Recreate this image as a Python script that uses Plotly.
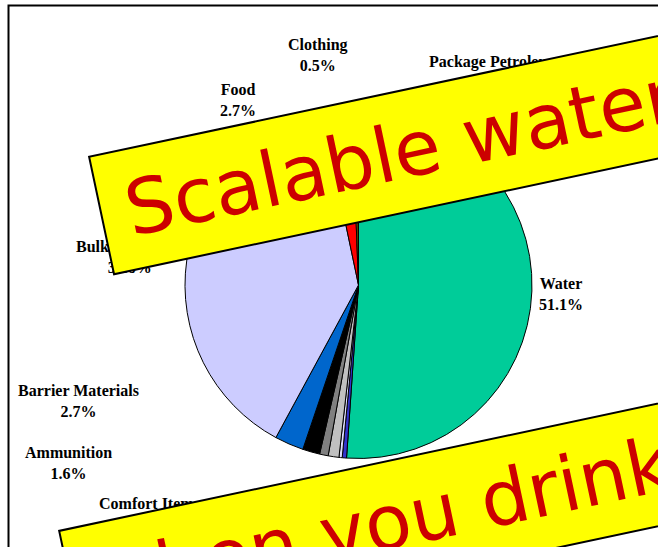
import plotly.graph_objects as go

W_PX, H_PX = 658, 547

categories = ["Water", "Repair Parts", "Medical", "Major End Items", "Comfort Items",
              "Ammunition", "Barrier Materials", "Bulk Petroleum", "Food", "Clothing",
              "Package Petroleum"]
values = [51.1, 0.4, 0.3, 1.0, 0.8, 1.6, 2.7, 38.8, 2.7, 0.5, 0.1]
colors = ["#00CC99", "#3333CC", "#DDDDFF", "#C0C0C0", "#808080", "#000000",
          "#0066CC", "#CCCCFF", "#FF0000", "#CC9900", "#993300"]

# label centre positions in window pixels (x, y from top)
label_pos = {
    "Water": (561, 294),
    "Repair Parts": (420, 512),
    "Medical": (330, 522),
    "Major End Items": (240, 535),
    "Comfort Items": (149, 514),
    "Ammunition": (68, 463),
    "Barrier Materials": (78, 401),
    "Bulk Petroleum": (130, 257),
    "Food": (238, 100),
    "Clothing": (318, 55),
    "Package Petroleum": (495, 72),
}

banner_texts = ["Scalable water", "when you drink"]


def px(x):
    return x / W_PX


def py(y):
    return 1 - y / H_PX


fig = go.Figure()
fig.add_trace(go.Pie(
    labels=categories, values=values, sort=False, direction="clockwise", rotation=0,
    marker=dict(colors=colors, line=dict(color="black", width=1)),
    textinfo="none", hoverinfo="label+percent", showlegend=False,
    domain=dict(x=[px(185), px(532)], y=[py(458.5), py(111.5)]),
))

total = sum(values)
for name, v in zip(categories, values):
    x, y = label_pos[name]
    fig.add_annotation(
        text=f"<b>{name}</b><br><b>{100 * v / total:.1f}%</b>",
        x=px(x), y=py(y), xref="paper", yref="paper", showarrow=False,
        xanchor="center", yanchor="middle", align="center",
        font=dict(family="Liberation Serif", size=16, color="#000000"),
    )

# frame
fig.add_shape(type="rect", xref="paper", yref="paper",
              x0=px(8.5), x1=1.05, y0=-0.05, y1=py(5.5),
              line=dict(color="black", width=2), fillcolor="rgba(0,0,0,0)")

# banners (rotated yellow boxes)
BW, BH = 700, 122
banner_centres = [(442.8, 143.2), (413, 516.9)]
for text, (cx, cy) in zip(banner_texts, banner_centres):
    fig.add_annotation(
        text="\u00a0" + text, x=px(cx), y=py(cy), xref="paper", yref="paper",
        showarrow=False, textangle=-12, xanchor="center", yanchor="middle",
        width=BW - 4, height=BH - 4, align="left", valign="middle",
        bgcolor="#FFFF00", bordercolor="black", borderwidth=2, borderpad=0,
        font=dict(family="DejaVu Sans", size=76, color="#CC0000"),
    )

fig.update_layout(
    width=W_PX, height=H_PX, margin=dict(l=0, r=0, t=0, b=0),
    paper_bgcolor="white", plot_bgcolor="white",
)

fig.write_html(
    "out.html",
    config={"displayModeBar": False},
    post_script="document.body.style.margin='0';document.body.style.overflow='hidden';",
)
